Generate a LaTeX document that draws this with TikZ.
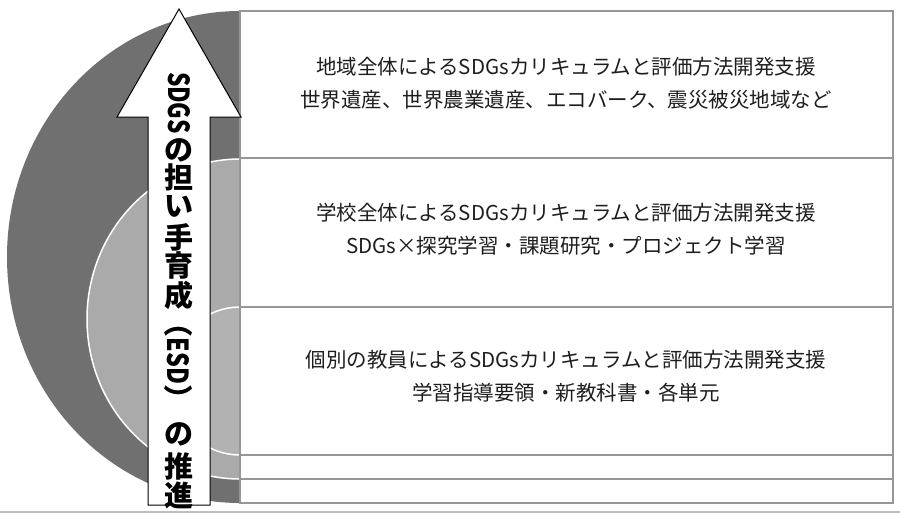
\documentclass[tikz,border=0pt]{standalone}
\usepackage{fontspec}
\usepackage{graphicx}
\newfontfamily\jp{Noto Sans CJK JP}
\definecolor{dkgray}{RGB}{112,112,112}
\definecolor{mdgray}{RGB}{170,170,170}
\definecolor{ltgray}{RGB}{178,178,178}
\definecolor{rowgray}{RGB}{150,150,150}
\definecolor{txtgray}{RGB}{30,30,30}
\begin{document}
\begin{tikzpicture}[x=1pt,y=-1pt,
  ring/.style={draw=white,line width=1.5pt},
  rowline/.style={draw=rowgray,line width=1.6pt},
  boxtxt/.style={font=\jp\fontsize{20.5}{33}\selectfont,text=txtgray,align=center,inner sep=0pt},
  arrtxt/.style={font=\jp\bfseries\fontsize{29}{29}\selectfont,inner sep=0pt}]
\useasboundingbox (0,0) rectangle (900,515);
\fill[white] (0,0) rectangle (900,515);
% nested rings
\fill[dkgray] (240,257) ellipse [x radius=233, y radius=246];
\filldraw[fill=mdgray,ring] (240,319) ellipse [x radius=153, y radius=160];
\filldraw[fill=ltgray,ring] (240,381) ellipse [x radius=70, y radius=74];
% table of levels
\filldraw[fill=white,draw=rowgray,line width=1.6pt] (240,11) rectangle (893,503);
\draw[rowline] (240,158) -- (893,158);
\draw[rowline] (240,307) -- (893,307);
\draw[rowline] (240,455) -- (893,455);
\draw[rowline] (240,479) -- (893,479);
\draw[draw=black!25,line width=2pt] (0,512) -- (900,512);
% texts
\node[boxtxt] (t1) at (566,83) {地域全体によるSDGsカリキュラムと評価方法開発支援\\世界遺産、世界農業遺産、エコバーク、震災被災地域など};
\node[boxtxt] (t2) at (566,229) {学校全体によるSDGsカリキュラムと評価方法開発支援\\SDGs×探究学習・課題研究・プロジェクト学習};
\node[boxtxt] (t3) at (566,376) {個別の教員によるSDGsカリキュラムと評価方法開発支援\\学習指導要領・新教科書・各単元};
% arrow
\filldraw[fill=white,draw=black,line width=1pt,line join=miter]
  (148,505) -- (148,117) -- (117,117) -- (179,9) -- (241,117) -- (210,117) -- (210,505) -- cycle;
\node[arrtxt,rotate=-90] (a1) at (179,103) {\scalebox{0.78}[1]{SDGS}};
\node[arrtxt] (a2) at (179,150) {の};
\node[arrtxt] (a3) at (179,177) {担};
\node[arrtxt] (a4) at (179,206) {い};
\node[arrtxt] (a5) at (179,237) {手};
\node[arrtxt] (a6) at (179,265) {育};
\node[arrtxt] (a7) at (179,295) {成};
\node[arrtxt,rotate=-90] (a8) at (179,361) {（\scalebox{0.8}[1]{ESD}）};
\node[arrtxt] (a9) at (179,434) {の};
\node[arrtxt] (a10) at (179,466) {推};
\node[arrtxt] (a11) at (179,495) {進};
\end{tikzpicture}
\end{document}
